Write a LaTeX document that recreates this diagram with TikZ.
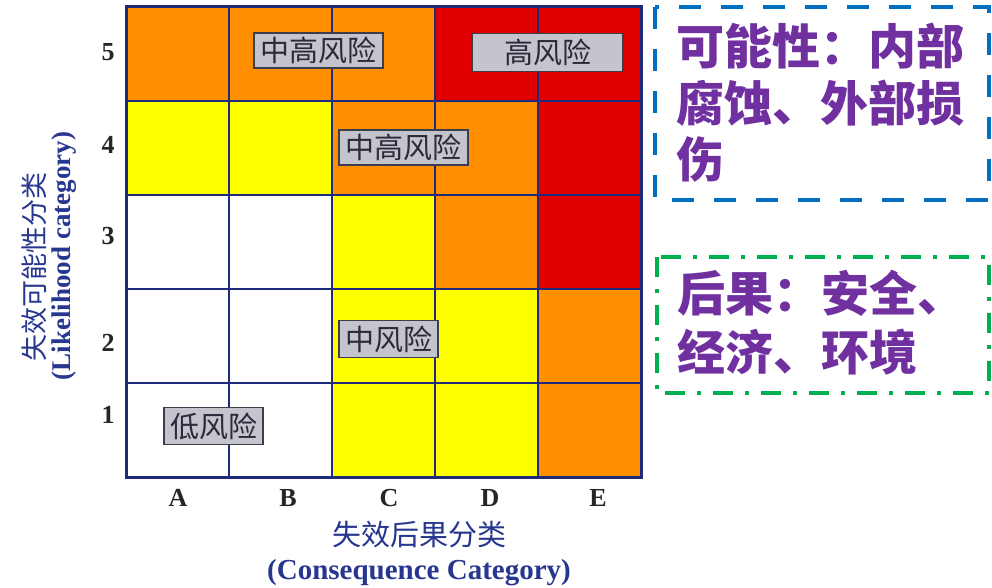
\documentclass[tikz,border=0pt]{standalone}
\usepackage{fontspec}
\setmainfont{Liberation Serif}
\newfontfamily\cjk{Noto Sans CJK SC}
\definecolor{cOr}{HTML}{FF8F00}
\definecolor{cRd}{HTML}{E00000}
\definecolor{cYl}{HTML}{FFFF00}
\definecolor{cGrid}{HTML}{1F2A7A}
\definecolor{cLab}{HTML}{C4C4CC}
\definecolor{cLabB}{HTML}{3C3C4C}
\definecolor{cLabT}{HTML}{2A2A3A}
\definecolor{cAxis}{HTML}{27378F}
\definecolor{cPur}{HTML}{7030A0}
\definecolor{cBlu}{HTML}{0070C0}
\definecolor{cGrn}{HTML}{00B050}
\begin{document}
\begin{tikzpicture}[x=1pt,y=-1pt,
  gridline/.style={cGrid,line width=2.2},
  frameline/.style={cGrid,line width=3},
  riskbox/.style={draw=cLabB,line width=1.2,fill=cLab,inner sep=0,text=cLabT,
    font=\cjk\fontsize{29}{29}\selectfont},
  ticklab/.style={font=\bfseries\fontsize{26}{26}\selectfont,text=black!85,inner sep=0},
  axiscjk/.style={font=\cjk\fontsize{29}{29}\selectfont,text=cAxis,inner sep=0},
  axiseng/.style={font=\bfseries\fontsize{29}{29}\selectfont,text=cAxis,inner sep=0},
  purtext/.style={font=\cjk\bfseries\fontsize{48}{48}\selectfont,text=cPur,anchor=west,inner sep=0},
  bluebox/.style={cBlu,line width=4.5,dash pattern=on 22 off 20},
  greenbox/.style={cGrn,line width=4.5,dash pattern=on 20 off 12 on 4 off 12}
]
\useasboundingbox (0,0) rectangle (992,588);
\fill[white] (0,0) rectangle (992,588);

% cells
\foreach \cols [count=\i from 0] in {{cOr,cOr,cOr,cRd,cRd},{cYl,cYl,cOr,cOr,cRd},{white,white,cYl,cOr,cRd},{white,white,cYl,cYl,cOr},{white,white,cYl,cYl,cOr}}{
  \foreach \col [count=\j from 0] in \cols {
    \fill[\col] (126+103*\j,7+94*\i) rectangle ++(103,94);
  }
}
% grid
\foreach \j in {1,...,4}{
  \draw[gridline] (126+103*\j,7) -- (126+103*\j,477);
  \draw[gridline] (126,7+94*\j) -- (641,7+94*\j);
}
\draw[frameline] (126,7) rectangle (641,477);

% risk labels
\node[riskbox,minimum width=129,minimum height=35] (mh5) at (318.5,50.5) {中高风险};
\node[riskbox,minimum width=151,minimum height=38] (hi5) at (547.5,52.5) {高风险};
\node[riskbox,minimum width=129,minimum height=35] (mh4) at (403.5,147.5) {中高风险};
\node[riskbox,minimum width=99,minimum height=37] (md2) at (388.5,339) {中风险};
\node[riskbox,minimum width=99,minimum height=37] (lo1) at (213.5,426) {低风险};

% row labels
\node[ticklab] (r5) at (108,52) {5};
\node[ticklab] (r4) at (108,145) {4};
\node[ticklab] (r3) at (108,236) {3};
\node[ticklab] (r2) at (108,343) {2};
\node[ticklab] (r1) at (108,415) {1};
% column labels
\node[ticklab] (cA) at (178,498) {A};
\node[ticklab] (cB) at (288,498) {B};
\node[ticklab] (cC) at (389,498) {C};
\node[ticklab] (cD) at (490,498) {D};
\node[ticklab] (cE) at (598,498) {E};

% axis titles
\node[axiscjk] (xt1) at (419,535) {失效后果分类};
\node[axiseng] (xt2) at (419,573) {(Consequence Category)};
\node[axiscjk,rotate=90,font=\cjk\fontsize{27}{27}\selectfont] (yt1) at (34,267) {失效可能性分类};
\node[axiseng,rotate=90,font=\bfseries\fontsize{27}{27}\selectfont] (yt2) at (64,256) {(Likelihood category)};

% right boxes
\draw[bluebox] (655,7) rectangle (989,200);
\draw[greenbox] (657,257) rectangle (989,393);

\node[purtext] (p1) at (676,46) {可能性：内部};
\node[purtext] (p2) at (676,103) {腐蚀、外部损};
\node[purtext] (p3) at (676,160) {伤};

\node[purtext] (g1) at (677,293) {后果：安全、};
\node[purtext] (g2) at (677,352) {经济、环境};
\end{tikzpicture}
\end{document}
